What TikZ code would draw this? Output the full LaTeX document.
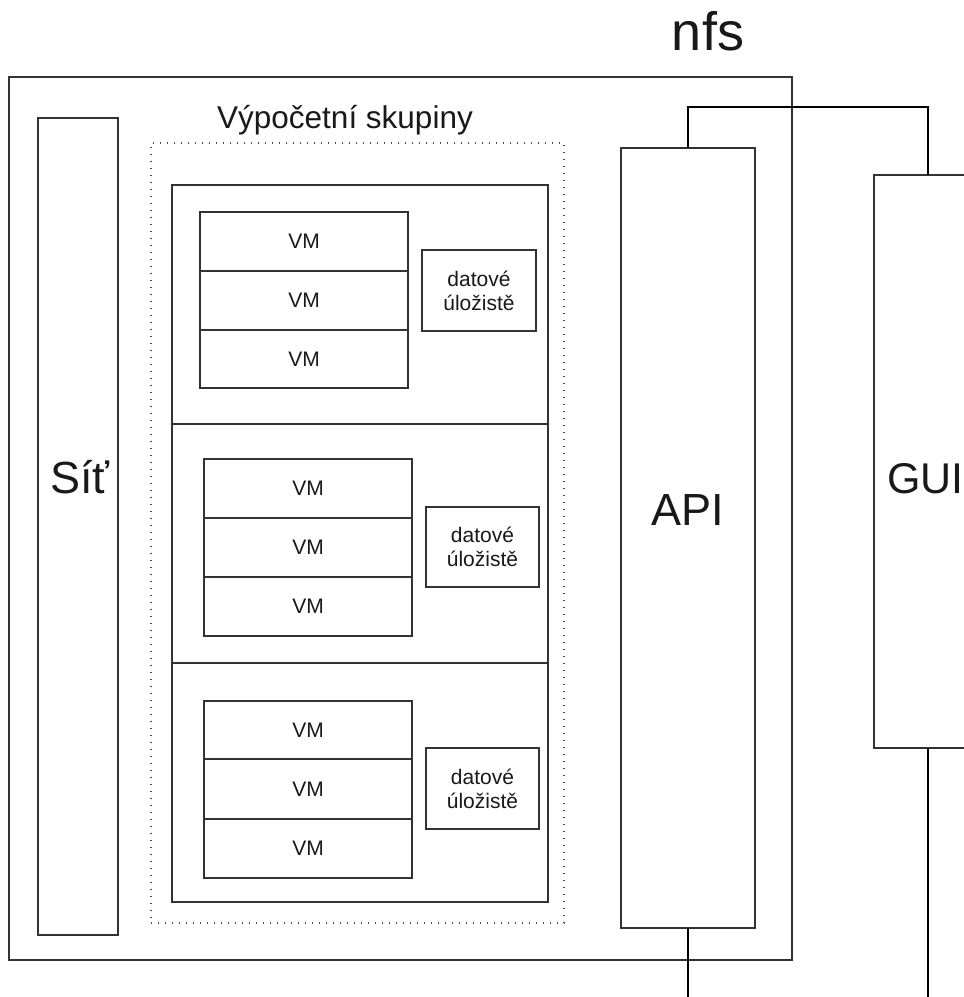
\documentclass[tikz,border=0pt]{standalone}
\usepackage{fontspec}
\setmainfont{Liberation Sans}
\usetikzlibrary{fit}

\tikzset{
  box/.style={draw=black!80, line width=1.1pt, inner sep=0pt, outer sep=0pt, rectangle},
  dotbox/.style={draw=black!70, line width=1.4pt, dash pattern=on 1.4pt off 5.6pt, inner sep=0pt, outer sep=0pt},
  smalltext/.style={inner sep=0pt, align=center, font=\fontsize{21}{24}\selectfont, text=black!90},
  biglabel/.style={font=\fontsize{45}{50}\selectfont, text=black!90, inner sep=0pt},
  link/.style={draw=black, line width=1.6pt}
}

\begin{document}
\begin{tikzpicture}[x=1pt, y=-1pt]
  \path[use as bounding box, clip] (0,0) rectangle (964,997);
  \fill[white] (0,0) rectangle (964,997);

  % cloud frame and network column
  \node[box, fit={(9,77) (792,960)}] (cloud) {};
  \node[box, fit={(38,118) (118,935)}] (net) {};
  \node[biglabel, anchor=base] (netlbl) at (80,493) {Síť};

  % compute groups
  \node[dotbox, fit={(151,143) (564,923)}] (groups) {};
  \node[font=\fontsize{31.5}{36}\selectfont, text=black!90, inner sep=0pt, anchor=base] (groupslbl) at (345,128) {Výpočetní skupiny};

  \node[box, fit={(172,185) (548,424)}] (g1) {};
  \node[box, fit={(172,424) (548,663)}] (g2) {};
  \node[box, fit={(172,663) (548,902)}] (g3) {};

  % group 1
  \node[box, fit={(200,212) (408,271)}] (g1vm1) {};
  \node[box, fit={(200,271) (408,330)}] (g1vm2) {};
  \node[box, fit={(200,330) (408,388)}] (g1vm3) {};
  \node[box, fit={(422,250) (536,331)}] (g1st) {};

  % group 2
  \node[box, fit={(204,459) (412,518)}] (g2vm1) {};
  \node[box, fit={(204,518) (412,577)}] (g2vm2) {};
  \node[box, fit={(204,577) (412,636)}] (g2vm3) {};
  \node[box, fit={(426,507) (539,587)}] (g2st) {};

  % group 3
  \node[box, fit={(204,701) (412,759)}] (g3vm1) {};
  \node[box, fit={(204,759) (412,819)}] (g3vm2) {};
  \node[box, fit={(204,819) (412,878)}] (g3vm3) {};
  \node[box, fit={(426,748) (539,829)}] (g3st) {};

  % labels inside the small boxes
  \foreach \g in {1,2,3}{
    \foreach \v in {1,2,3}{
      \node[smalltext] (g\g vm\v lbl) at (g\g vm\v.center) {VM};
    }
    \node[smalltext] (g\g stlbl) at (g\g st.center) {datové\\úložistě};
  }

  % API and GUI
  \node[box, fit={(621,148) (755,928)}] (api) {};
  \node[biglabel, anchor=base] (apilbl) at (688,525) {API};
  \node[box, fit={(874,175) (982,748)}] (gui) {};
  \node[biglabel, anchor=base west, font=\fontsize{43}{48}\selectfont] (guilbl) at (887,493) {GUI};

  \node[font=\fontsize{54}{60}\selectfont, text=black!90, inner sep=0pt, anchor=base] (nfs) at (708,50) {nfs};

  % links
  \coordinate (bus) at (0,107);
  \coordinate (apiend) at (688,997);
  \coordinate (guiend) at (928,997);
  \draw[link] (api.north) -- (api.north |- bus) -| (gui.north);
  \draw[link] (api.south) -- (apiend);
  \draw[link] (gui.south) -- (guiend);
\end{tikzpicture}
\end{document}
